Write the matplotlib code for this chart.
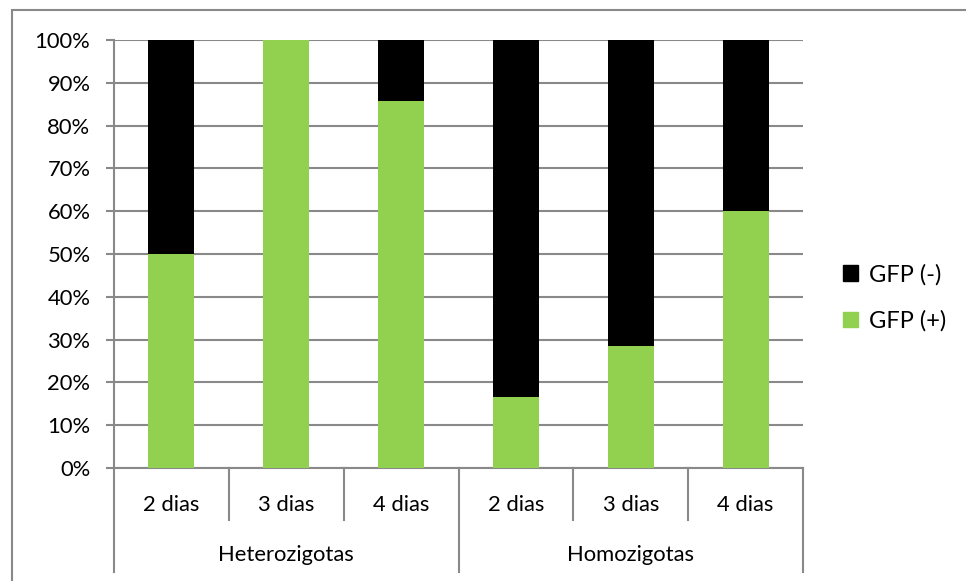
import matplotlib
matplotlib.use("Agg")
import matplotlib.pyplot as plt
from matplotlib.patches import Rectangle, Patch
from matplotlib.lines import Line2D

# Share of embryos per condition (percent)
groups = ["Heterozigotas", "Homozigotas"]
days = ["2 dias", "3 dias", "4 dias"]
gfp_pos = [50.0, 100.0, 85.7, 16.7, 28.6, 60.0]
gfp_neg = [50.0, 0.0, 14.3, 83.3, 71.4, 40.0]

green = "#92D050"
black = "#000000"
grey = "#898989"

plt.rcParams["font.family"] = ["Lato", "DejaVu Sans"]
plt.rcParams["font.size"] = 15.8

W, H = 966, 581
fig = plt.figure(figsize=(W / 100, H / 100), dpi=100)
ax = fig.add_axes([114 / W, 113 / H, (803 - 114) / W, (468 - 40) / H])

x = list(range(len(gfp_pos)))
ax.bar(x, gfp_pos, width=0.4, color=green, zorder=3)
ax.bar(x, gfp_neg, width=0.4, bottom=gfp_pos, color=black, zorder=3)

ax.set_xlim(-0.5, len(x) - 0.5)
ax.set_ylim(0, 100)
ax.set_yticks(range(0, 101, 10))
ax.set_yticklabels([f"{v}%" for v in range(0, 101, 10)])
ax.yaxis.grid(True, color=grey, linewidth=1.5, zorder=0)
ax.tick_params(axis="y", length=6, width=1.5, color=grey, pad=11)
ax.set_xticks([])

for side in ["top", "right"]:
    ax.spines[side].set_visible(False)
for side in ["left", "bottom"]:
    ax.spines[side].set_color(grey)
    ax.spines[side].set_linewidth(1.5)

# two-level category axis below the bars
tr = ax.get_xaxis_transform()
n_days = len(days)
for i in range(len(x) + 1):
    xs = i - 0.5
    y_end = -0.243 if i % n_days == 0 else -0.1215
    ax.add_line(Line2D([xs, xs], [0, y_end], transform=tr, color=grey,
                       linewidth=1.5, clip_on=False))
for i in x:
    ax.text(i, -0.0864, days[i % n_days], transform=tr, ha="center", va="center")
for g, name in enumerate(groups):
    ax.text(g * n_days + (n_days - 1) / 2, -0.2033, name, transform=tr,
            ha="center", va="center")

handles = [Patch(color=black, label="GFP (-)"), Patch(color=green, label="GFP (+)")]
fig.legend(handles=handles, loc="center left", bbox_to_anchor=(836 / W, 1 - 298 / H),
           frameon=False, fontsize=17, handlelength=0.65, handleheight=0.65,
           handletextpad=0.45, labelspacing=1.05, borderaxespad=0, borderpad=0.3)

# chart border
fig.patches.append(Rectangle((12 / W, -0.05), 1.0, 1 - 10 / H + 0.05,
                             transform=fig.transFigure, fill=False,
                             edgecolor=grey, linewidth=1.5))

fig.savefig("out.png", dpi=100)
